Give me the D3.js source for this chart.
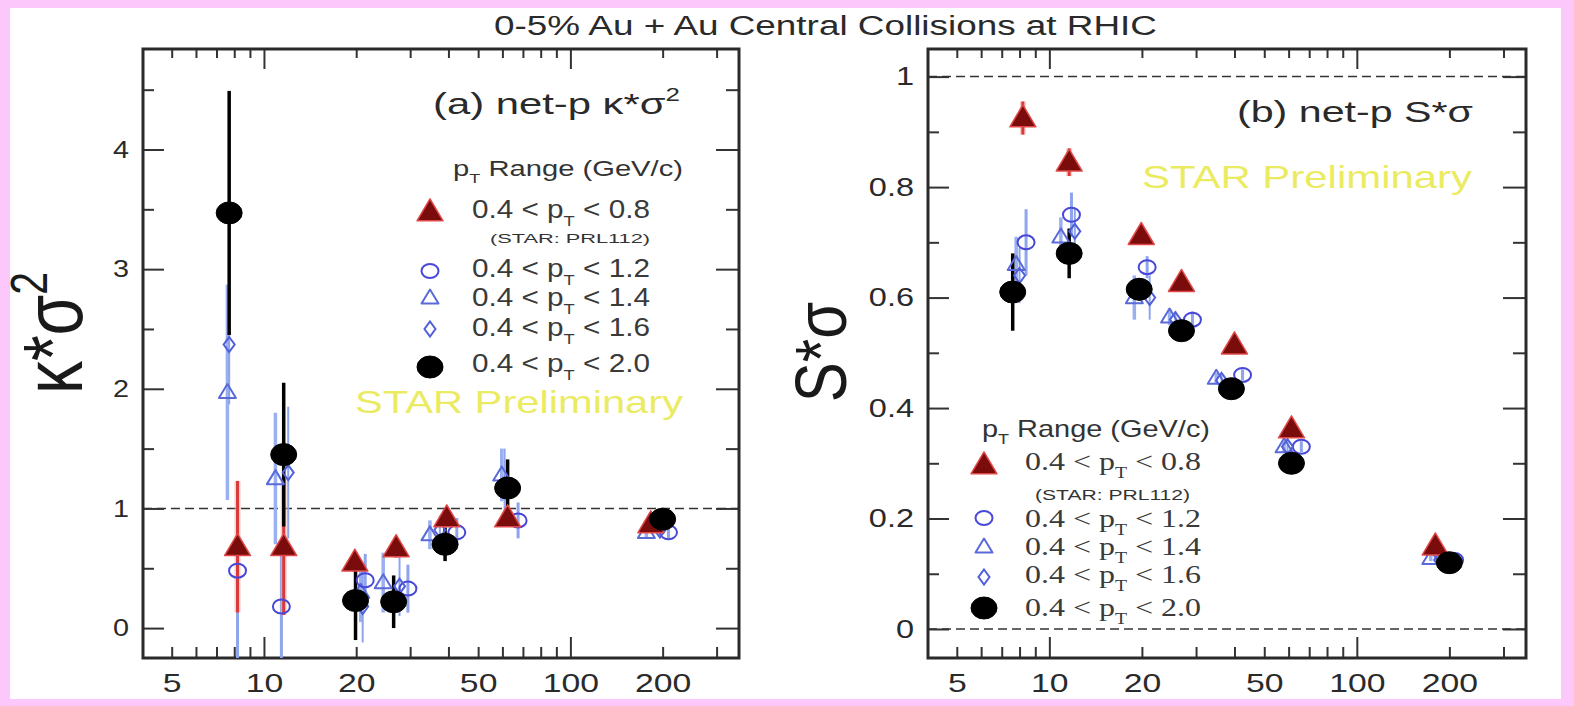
<!DOCTYPE html>
<html><head><meta charset="utf-8">
<script src="https://cdn.jsdelivr.net/npm/d3@7"></script>
<style>body{margin:0;background:#fff;} svg{display:block}</style>
</head><body>
<svg id="c" width="1574" height="706"></svg>
<script>
const SANS = "'Liberation Sans', Arial, Helvetica, sans-serif";
const SERIF = "'Liberation Serif', 'Times New Roman', serif";

// ---------------- data ----------------
const titleText = "0-5% Au + Au Central Collisions at RHIC";
const xDomain = [4.03, 355];
const xTickLabels = [5, 10, 20, 50, 100, 200];
const xMajorTicks = [10, 100];
const xMinorTicks = [5, 6, 7, 8, 9, 20, 30, 40, 50, 60, 70, 80, 90, 200, 300];
const yTicksA = [0, 1, 2, 3, 4];
const yMinorA = [0.5, 1.5, 2.5, 3.5, 4.5];
const yTicksB = [0, 0.2, 0.4, 0.6, 0.8, 1];
const yMinorB = [0.1, 0.3, 0.5, 0.7, 0.9];
const ptRanges = ["0.8", "1.2", "1.4", "1.6", "2.0"];

// panel (a): net-p kappa*sigma^2
const a08x = [8.2, 11.6, 19.8, 27, 39.5, 62.4, 183];
const a08y = [0.68, 0.68, 0.55, 0.67, 0.92, 0.92, 0.87];
const a08e = [0.55, 0.57, 0.08, 0.08, 0.07, 0.06, 0.03];
const a12x = [8.2, 11.4, 21.4, 29.5, 42.6, 67.5, 209];
const a12y = [0.48, 0.18, 0.40, 0.33, 0.80, 0.90, 0.80];
const a12e = [0.75, 0.55, 0.22, 0.20, 0.12, 0.15, 0.05];
const a14x = [7.6, 10.9, 20.7, 24.5, 34.8, 59.7, 177];
const a14y = [1.97, 1.25, 0.30, 0.38, 0.78, 1.28, 0.80];
const a14e = [0.90, 0.55, 0.25, 0.25, 0.12, 0.22, 0.05];
const a16x = [7.7, 12.0, 21.0, 27.7, 37.5, 61, 196];
const a16y = [2.37, 1.30, 0.18, 0.35, 0.82, 1.20, 0.82];
const a16e = [0.50, 0.55, 0.30, 0.25, 0.12, 0.30, 0.06];
const a20x = [7.7, 11.6, 19.9, 26.5, 39, 62.4, 200];
const a20y = [3.47, 1.45, 0.23, 0.22, 0.70, 1.17, 0.91];
const a20e = [1.02, 0.60, 0.33, 0.22, 0.14, 0.24, 0.08];

// panel (b): net-p S*sigma
const b08x = [8.2, 11.6, 19.9, 26.9, 40, 61.3, 180];
const b08y = [0.925, 0.845, 0.712, 0.627, 0.514, 0.362, 0.150];
const b08e = [0.03, 0.025, 0.01, 0.01, 0.008, 0.008, 0.005];
const b12x = [8.4, 11.8, 20.8, 29.2, 42.5, 66, 208];
const b12y = [0.70, 0.75, 0.655, 0.56, 0.46, 0.33, 0.125];
const b12e = [0.06, 0.04, 0.02, 0.015, 0.01, 0.01, 0.005];
const b14x = [7.8, 10.9, 18.9, 24.6, 34.9, 58, 174];
const b14y = [0.66, 0.71, 0.60, 0.565, 0.454, 0.33, 0.128];
const b14e = [0.05, 0.035, 0.04, 0.015, 0.01, 0.01, 0.005];
const b16x = [8.0, 12.1, 21.2, 25.7, 36.3, 59.5, 186];
const b16y = [0.64, 0.72, 0.60, 0.56, 0.45, 0.33, 0.125];
const b16e = [0.05, 0.04, 0.04, 0.015, 0.01, 0.01, 0.005];
const b20x = [7.6, 11.6, 19.6, 26.9, 39.1, 61.3, 200];
const b20y = [0.61, 0.68, 0.615, 0.54, 0.435, 0.30, 0.12];
const b20e = [0.07, 0.045, 0.02, 0.015, 0.01, 0.01, 0.005];

// ---------------- styles ----------------
const ST = {
  "0.8": {shape: "tri", fill: "#7a0c0c", stroke: "#e04848", sw: 1.5, w: 26, h: 22, err: "#d93a3a", ew: 3},
  "1.2": {shape: "circle", fill: "none", stroke: "#4848d8", sw: 2, w: 17, h: 14, err: "#8ea4ec", ew: 3},
  "1.4": {shape: "tri", fill: "none", stroke: "#5a6ad8", sw: 2, w: 17, h: 14, err: "#9ab0f0", ew: 3.5},
  "1.6": {shape: "diamond", fill: "none", stroke: "#5060d8", sw: 2, w: 11, h: 15, err: "#8ea4ec", ew: 2},
  "2.0": {shape: "circle", fill: "#000", stroke: "#000", sw: 1, w: 26, h: 22, err: "#000", ew: 3.5}
};

function zip(xs, ys, es) { return xs.map((x, i) => ({x: x, y: ys[i], e: es[i]})); }

const panels = [
  {id: "a", x0: 143, x1: 739, y0: 49, y1: 658, ydom: [-0.25, 4.84],
   yt: yTicksA, ym: yMinorA, fmt: d3.format("d"), dashed: [1], yfs: 24, ysx: 1.2,
   series: {"1.4": zip(a14x, a14y, a14e), "1.2": zip(a12x, a12y, a12e), "1.6": zip(a16x, a16y, a16e),
            "0.8": zip(a08x, a08y, a08e), "2.0": zip(a20x, a20y, a20e)}},
  {id: "b", x0: 928, x1: 1526, y0: 49, y1: 658, ydom: [-0.0525, 1.05],
   yt: yTicksB, ym: yMinorB, fmt: d => (d === 0 || d === 1) ? String(d) : d.toFixed(1), dashed: [0, 1], yfs: 25, ysx: 1.3,
   series: {"1.4": zip(b14x, b14y, b14e), "1.2": zip(b12x, b12y, b12e), "1.6": zip(b16x, b16y, b16e),
            "0.8": zip(b08x, b08y, b08e), "2.0": zip(b20x, b20y, b20e)}}
];

const svg = d3.select("#c");
const defs = svg.append("defs");
svg.append("rect").attr("width", 1574).attr("height", 706).attr("fill", "#fff");

function rich(g, x, y, parts, o) {
  const t = g.append("text").attr("x", x).attr("y", y)
    .style("font-family", o.family || SANS).style("font-size", o.fs + "px")
    .attr("fill", o.fill || "#333");
  if (o.len) t.attr("textLength", o.len).attr("lengthAdjust", "spacingAndGlyphs");
  if (o.anchor) t.attr("text-anchor", o.anchor);
  let shift = 0;
  parts.forEach(p => {
    const s = typeof p === "string" ? p : p[0];
    const k = typeof p === "string" ? "n" : p[1];
    const target = k === "sub" ? o.fs * 0.3 : k === "sup" ? -o.fs * 0.42 : 0;
    const ts = t.append("tspan").text(s).attr("dy", target - shift);
    if (k !== "n") ts.style("font-size", (o.fs * 0.62) + "px");
    shift = target;
  });
  return t;
}

function marker(g, key, cx, cy) {
  const s = ST[key], w = s.w, h = s.h;
  if (s.shape === "circle") {
    g.append("ellipse").attr("cx", cx).attr("cy", cy).attr("rx", w / 2).attr("ry", h / 2)
      .attr("fill", s.fill).attr("stroke", s.stroke).attr("stroke-width", s.sw);
  } else if (s.shape === "tri") {
    g.append("path").attr("d", `M${cx},${cy - h * 0.6}L${cx + w / 2},${cy + h * 0.4}L${cx - w / 2},${cy + h * 0.4}Z`)
      .attr("fill", s.fill).attr("stroke", s.stroke).attr("stroke-width", s.sw).attr("stroke-linejoin", "round");
  } else {
    g.append("path").attr("d", `M${cx},${cy - h / 2}L${cx + w / 2},${cy}L${cx},${cy + h / 2}L${cx - w / 2},${cy}Z`)
      .attr("fill", s.fill).attr("stroke", s.stroke).attr("stroke-width", s.sw);
  }
}

function styleTicks(sel, fs, sx) {
  sel.selectAll("text").style("font-family", SANS).style("font-size", fs + "px")
    .attr("fill", "#2a2a2a").attr("transform", `scale(${sx},1)`);
}
function cleanAxis(g) { g.select(".domain").remove(); g.attr("color", "#333"); g.selectAll("line").attr("stroke-width", 2); }

panels.forEach(P => {
  const x = d3.scaleLog().domain(xDomain).range([P.x0, P.x1]);
  const y = d3.scaleLinear().domain(P.ydom).range([P.y1, P.y0]);
  const g = svg.append("g");
  defs.append("clipPath").attr("id", "clip" + P.id).append("rect")
    .attr("x", P.x0).attr("y", P.y0).attr("width", P.x1 - P.x0).attr("height", P.y1 - P.y0);

  // dashed reference lines
  P.dashed.forEach(v => g.append("line").attr("x1", P.x0).attr("x2", P.x1).attr("y1", y(v)).attr("y2", y(v))
    .attr("stroke", "#333").attr("stroke-width", 1.5).attr("stroke-dasharray", "9,5"));

  // x axes (bottom & top)
  const gb = g.append("g").attr("transform", `translate(0,${P.y1})`);
  gb.append("g").call(d3.axisBottom(x).tickValues(xMinorTicks).tickSizeInner(-11).tickSizeOuter(0).tickFormat("")).call(cleanAxis);
  gb.append("g").call(d3.axisBottom(x).tickValues(xMajorTicks).tickSizeInner(-21).tickSizeOuter(0).tickFormat("")).call(cleanAxis);
  const gl = gb.append("g").call(d3.axisBottom(x).tickValues(xTickLabels).tickSize(0).tickPadding(16).tickFormat(d3.format("d"))).call(cleanAxis);
  styleTicks(gl, 25, 1.35);
  const gt = g.append("g").attr("transform", `translate(0,${P.y0})`);
  gt.append("g").call(d3.axisTop(x).tickValues(xMinorTicks).tickSizeInner(-9).tickSizeOuter(0).tickFormat("")).call(cleanAxis);
  gt.append("g").call(d3.axisTop(x).tickValues(xMajorTicks).tickSizeInner(-20).tickSizeOuter(0).tickFormat("")).call(cleanAxis);

  // y axes (left & right)
  const gy = g.append("g").attr("transform", `translate(${P.x0},0)`);
  gy.append("g").call(d3.axisLeft(y).tickValues(P.ym).tickSizeInner(-11).tickSizeOuter(0).tickFormat("")).call(cleanAxis);
  gy.append("g").call(d3.axisLeft(y).tickValues(P.yt).tickSizeInner(-21).tickSizeOuter(0).tickFormat("")).call(cleanAxis);
  const gyl = gy.append("g").call(d3.axisLeft(y).tickValues(P.yt).tickSize(0).tickPadding(14 / P.ysx).tickFormat(P.fmt)).call(cleanAxis);
  styleTicks(gyl, P.yfs, P.ysx);
  const gr = g.append("g").attr("transform", `translate(${P.x1},0)`);
  gr.append("g").call(d3.axisRight(y).tickValues(P.ym).tickSizeInner(-13).tickSizeOuter(0).tickFormat("")).call(cleanAxis);
  gr.append("g").call(d3.axisRight(y).tickValues(P.yt).tickSizeInner(-23).tickSizeOuter(0).tickFormat("")).call(cleanAxis);

  // frame
  g.append("rect").attr("x", P.x0).attr("y", P.y0).attr("width", P.x1 - P.x0).attr("height", P.y1 - P.y0)
    .attr("fill", "none").attr("stroke", "#2a2a2a").attr("stroke-width", 3);

  // data
  const dg = g.append("g").attr("clip-path", `url(#clip${P.id})`);
  const order = ["1.4", "1.2", "1.6", "0.8", "2.0"];
  order.forEach(k => {
    const s = ST[k];
    P.series[k].forEach(d => {
      if (k === "0.8") {
        dg.append("line").attr("x1", x(d.x)).attr("x2", x(d.x)).attr("y1", y(d.y - d.e)).attr("y2", y(d.y + d.e))
          .attr("stroke", "#f4b0b0").attr("stroke-width", 6).attr("opacity", 0.6);
      }
      dg.append("line").attr("x1", x(d.x)).attr("x2", x(d.x)).attr("y1", y(d.y - d.e)).attr("y2", y(d.y + d.e))
        .attr("stroke", s.err).attr("stroke-width", s.ew);
    });
  });
  order.forEach(k => {
    P.series[k].forEach(d => marker(dg, k, x(d.x), y(d.y)));
  });
});

// ---------------- texts ----------------
const T = svg.append("g");
rich(T, 494, 35, [titleText], {fs: 27, len: 663, fill: "#2a2a2a"});

// panel labels
rich(T, 433, 114, ["(a) net-p κ*σ", ["2", "sup"]], {fs: 30, len: 247, fill: "#2a2a2a"});
rich(T, 1237, 122, ["(b) net-p S*σ"], {fs: 30, len: 236, fill: "#2a2a2a"});

// STAR Preliminary
rich(T, 355, 413, ["STAR Preliminary"], {fs: 32, len: 328, fill: "#ebeb62"});
rich(T, 1142, 188, ["STAR Preliminary"], {fs: 32, len: 330, fill: "#ebeb62"});

// axis titles
rich(T, 0, 0, ["κ*σ", ["2", "sup"]], {fs: 66, anchor: "middle", fill: "#1a1a1a"})
  .attr("transform", "translate(82,333) rotate(-90) scale(1,1.25)");
rich(T, 0, 0, ["S*σ"], {fs: 60, anchor: "middle", fill: "#1a1a1a"})
  .attr("transform", "translate(846,352) rotate(-90) scale(1,1.2)");

// legends
const legA = {hx: 453, hy: 176, hlen: 230, hfs: 22, mx: 430, tx: 472, tlen: 178, fs: 25, family: SANS,
  rows: [218, 277, 306, 336, 372], my: [212, 271, 298, 329, 367], sy: 243, sx: 490, slen: 160, sfs: 13};
const legB = {hx: 982, hy: 437, hlen: 228, hfs: 24, mx: 984, tx: 1025, tlen: 176, fs: 26, family: SERIF,
  rows: [470, 527, 555, 583, 616], my: [465, 518, 547, 577, 608], sy: 500, sx: 1035, slen: 155, sfs: 15};
[legA, legB].forEach(L => {
  rich(T, L.hx, L.hy, ["p", ["T", "sub"], " Range (GeV/c)"], {fs: L.hfs, len: L.hlen, fill: "#333"});
  ptRanges.forEach((r, i) => {
    rich(T, L.tx, L.rows[i], ["0.4 < p", ["T", "sub"], " < " + r], {fs: L.fs, len: L.tlen, fill: "#3a3a3a", family: L.family});
    marker(T, r, L.mx, L.my[i]);
  });
  rich(T, L.sx, L.sy, ["(STAR: PRL112)"], {fs: L.sfs, len: L.slen, fill: "#333"});
});

// pink border
const pink = "#fcc8fc";
svg.append("rect").attr("x", 0).attr("y", 0).attr("width", 1574).attr("height", 8).attr("fill", pink);
svg.append("rect").attr("x", 0).attr("y", 0).attr("width", 10).attr("height", 706).attr("fill", pink);
svg.append("rect").attr("x", 1561).attr("y", 0).attr("width", 13).attr("height", 706).attr("fill", pink);
svg.append("rect").attr("x", 0).attr("y", 699).attr("width", 1574).attr("height", 7).attr("fill", pink);
</script>
</body></html>
